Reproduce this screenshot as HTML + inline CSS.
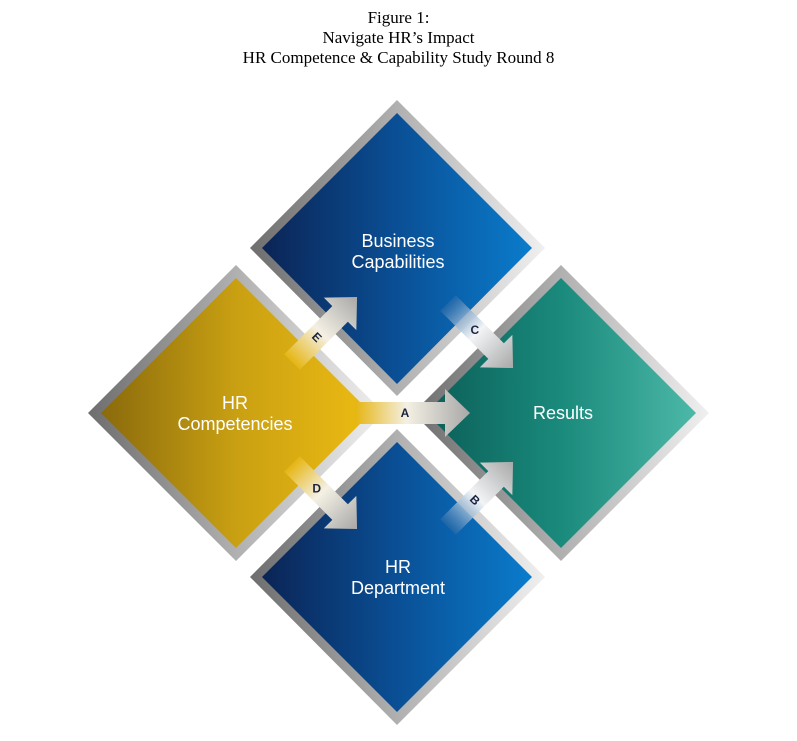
<!DOCTYPE html>
<html><head><meta charset="utf-8"><style>
body{margin:0;background:#fff;width:797px;height:741px;overflow:hidden}
.t{position:absolute;left:0;width:797px;text-align:center;font-family:"Liberation Serif",serif;font-size:17px;line-height:20px;color:#000}
</style></head><body>
<div class="t" style="top:8px">Figure 1:<br>Navigate HR’s Impact<br>HR Competence &amp; Capability Study Round 8</div>
<svg width="797" height="741" style="position:absolute;left:0;top:0">
<defs>
<linearGradient id="fr" x1="0" y1="0" x2="1" y2="0"><stop offset="0" stop-color="#6e6e6e"/><stop offset=".5" stop-color="#b0b0b0"/><stop offset="1" stop-color="#f0f0f0"/></linearGradient>
<linearGradient id="bl" x1="0" y1="0" x2="1" y2="0"><stop offset="0" stop-color="#0b2455"/><stop offset=".5" stop-color="#0a4f95"/><stop offset="1" stop-color="#0a7ccc"/></linearGradient>
<linearGradient id="ye" x1="0" y1="0" x2="1" y2="0"><stop offset="0" stop-color="#8a6a0c"/><stop offset=".5" stop-color="#c9a012"/><stop offset="1" stop-color="#ecbb12"/></linearGradient>
<linearGradient id="gr" x1="0" y1="0" x2="1" y2="0"><stop offset="0" stop-color="#0b5e58"/><stop offset=".5" stop-color="#1a8a7c"/><stop offset="1" stop-color="#4cb8a8"/></linearGradient>
<linearGradient id="ay" x1="0" y1="0" x2="1" y2="0"><stop offset="0" stop-color="#e6b512"/><stop offset=".45" stop-color="#f4f0e4"/><stop offset="1" stop-color="#a8a8a8"/></linearGradient>
<linearGradient id="ab" x1="0" y1="0" x2="1" y2="0"><stop offset="0" stop-color="#2a6aa8" stop-opacity=".6"/><stop offset=".45" stop-color="#f2f4f6"/><stop offset="1" stop-color="#a8a8a8"/></linearGradient>
</defs>
<polygon points="397,100 545,248 397,396 250,248" fill="url(#fr)"/>
<polygon points="397,113 532,248 397,384 262,248" fill="url(#bl)"/>
<polygon points="236,265 384,413 236,561 88,413" fill="url(#fr)"/>
<polygon points="236,278 371,413 236,548 101,413" fill="url(#ye)"/>
<polygon points="561,265 709,413 561,561 413,413" fill="url(#fr)"/>
<polygon points="561,278 696,413 561,548 426,413" fill="url(#gr)"/>
<polygon points="397,429 545,577 397,725 250,577" fill="url(#fr)"/>
<polygon points="397,442 532,577 397,712 262,577" fill="url(#bl)"/>
<g font-family="Liberation Sans,sans-serif" font-weight="bold" font-size="12" fill="#1a2340" text-anchor="middle">
<g transform="translate(355,413)"><path d="M0,-11H90V-24L115,0L90,24V11H0Z" fill="url(#ay)"/><text x="50" y="4">A</text></g>
<g transform="translate(292,362) rotate(-45)"><path d="M0,-11H68V-23L92,0L68,23V11H0Z" fill="url(#ay)"/><text x="35" y="4" transform="rotate(90 35 0)">E</text></g>
<g transform="translate(292,464) rotate(45)"><path d="M0,-11H68V-23L92,0L68,23V11H0Z" fill="url(#ay)"/><text x="35" y="4" transform="rotate(-45 35 0)">D</text></g>
<g transform="translate(448,303) rotate(45)"><path d="M0,-11H68V-23L92,0L68,23V11H0Z" fill="url(#ab)"/><text x="38" y="4" transform="rotate(-45 38 0)">C</text></g>
<g transform="translate(448,527) rotate(-45)"><path d="M0,-11H68V-23L92,0L68,23V11H0Z" fill="url(#ab)"/><text x="38" y="4" transform="rotate(90 38 0)">B</text></g>
</g>
<g font-family="Liberation Sans,sans-serif" font-size="18" fill="#fff" text-anchor="middle">
<text x="398" y="247">Business</text><text x="398" y="268">Capabilities</text>
<text x="235" y="409">HR</text><text x="235" y="430">Competencies</text>
<text x="563" y="419">Results</text>
<text x="398" y="573">HR</text><text x="398" y="594">Department</text>
</g>
</svg>
</body></html>
